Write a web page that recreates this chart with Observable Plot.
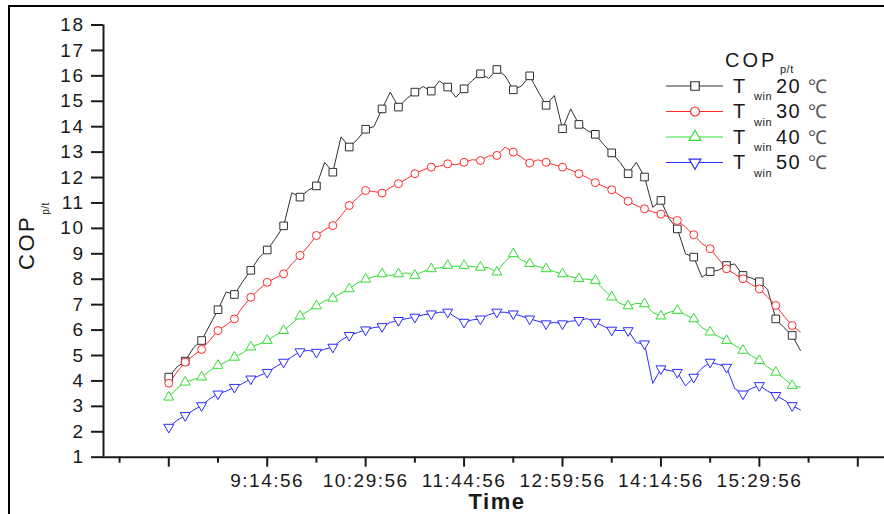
<!DOCTYPE html>
<html><head><meta charset="utf-8">
<script src="https://cdn.jsdelivr.net/npm/d3@7"></script>
<script src="https://cdn.jsdelivr.net/npm/@observablehq/plot@0.6"></script>
<style>
html,body{margin:0;padding:0;background:#fff;}
#wrap{position:relative;width:884px;height:514px;overflow:hidden;background:#fff;}
#frame{position:absolute;left:8px;top:5px;width:1000px;height:1000px;border-left:2.5px solid #000;border-top:2.5px solid #000;pointer-events:none;}
#wrap svg{position:absolute;left:0;top:0;}
</style></head>
<body><div id="wrap"><div id="frame"></div></div>
<script>
// ---- data ----
const startTime = "7:59:56";      // first sample
const stepSeconds = 375;           // sampling interval of the plotted points
const cop20 = [4.15,4.55,4.78,5.3,5.59,6.2,6.8,7.5,7.4,7.9,
  8.35,8.85,9.15,9.6,10.1,11.4,11.23,11.5,11.67,12.6,
  12.21,13.6,13.2,13.5,13.9,14.0,14.7,15.36,14.77,15.1,
  15.36,15.58,15.4,15.8,15.56,15.16,15.49,15.82,16.08,15.9,
  16.25,16.0,15.45,15.6,16.0,15.4,14.84,15.23,13.92,14.7,
  14.09,13.85,13.7,13.3,12.97,12.6,12.15,12.6,12.02,10.83,
  11.1,10.38,9.98,9.0,8.87,8.08,8.3,8.35,8.54,8.6,
  8.15,8.05,7.9,7.6,6.44,6.1,5.79,5.2];
const cop30 = [3.91,4.35,4.74,5.0,5.24,5.6,5.98,6.2,6.44,6.9,
  7.29,7.6,7.88,8.05,8.21,8.6,8.93,9.3,9.72,9.95,
  10.11,10.5,10.9,11.2,11.49,11.45,11.39,11.6,11.76,11.95,
  12.15,12.3,12.41,12.45,12.54,12.5,12.6,12.7,12.67,12.85,
  12.87,13.2,13.0,12.8,12.57,12.7,12.6,12.5,12.41,12.3,
  12.15,12.0,11.8,11.65,11.52,11.3,11.07,10.9,10.77,10.65,
  10.56,10.45,10.31,10.05,9.75,9.4,9.2,8.8,8.41,8.2,
  8.02,7.8,7.62,7.3,6.97,6.55,6.18,5.92];
const cop40 = [3.36,3.7,3.95,4.05,4.15,4.4,4.61,4.75,4.93,5.1,
  5.33,5.45,5.59,5.8,5.98,6.25,6.55,6.75,6.95,7.15,
  7.25,7.45,7.62,7.85,8.0,8.1,8.21,8.15,8.21,8.25,
  8.15,8.3,8.41,8.45,8.54,8.5,8.54,8.5,8.47,8.45,
  8.28,8.7,9.0,8.75,8.61,8.5,8.41,8.3,8.21,8.1,
  8.02,8.0,7.95,7.6,7.3,7.05,6.95,7.05,7.03,6.7,
  6.55,6.7,6.77,6.6,6.44,6.1,5.92,5.75,5.59,5.4,
  5.2,5.0,4.8,4.55,4.34,4.1,3.82,3.75];
const cop50 = [2.18,2.45,2.64,2.85,3.03,3.3,3.49,3.6,3.75,3.9,
  4.08,4.2,4.34,4.55,4.74,4.95,5.15,5.2,5.13,5.25,
  5.33,5.6,5.79,5.9,6.01,6.1,6.14,6.3,6.38,6.45,
  6.51,6.6,6.64,6.7,6.71,6.5,6.31,6.4,6.44,6.6,
  6.71,6.7,6.64,6.55,6.44,6.35,6.25,6.3,6.25,6.35,
  6.38,6.45,6.31,6.15,6.0,5.98,5.98,5.5,5.46,3.9,
  4.48,4.41,4.34,3.8,4.15,4.5,4.74,4.65,4.54,3.7,
  3.49,3.7,3.82,3.6,3.43,3.25,3.03,2.86];
const seriesTemps = ["20","30","40","50"];
const seriesColors = ["#303030","#ff2b2b","#33dd33","#2b2bff"];
const majorTicks = ["7:59:56","9:14:56","10:29:56","11:44:56","12:59:56","14:14:56","15:29:56","16:44:56"];
const labelledTicks = ["9:14:56","10:29:56","11:44:56","12:59:56","14:14:56","15:29:56"];
const minorTicks = ["7:22:26","8:37:26","9:52:26","11:07:26","12:22:26","13:37:26","14:52:26","16:07:26"];
const xDomain = ["7:10:11","17:05:17"];
const yTicks = [1,2,3,4,5,6,7,8,9,10,11,12,13,14,15,16,17,18];
const yLabel = "COP", ySub = "p/t", xLabel = "Time";

// ---- helpers ----
const parseT = s => { const [h,m,sec] = s.split(":").map(Number); return new Date(Date.UTC(2000,0,1,h,m,sec)); };
const fmtT = d => `${d.getUTCHours()}:${String(d.getUTCMinutes()).padStart(2,"0")}:${String(d.getUTCSeconds()).padStart(2,"0")}`;
const t0 = parseT(startTime).getTime();
const allSeries = [cop20, cop30, cop40, cop50];
const rows = [];
allSeries.forEach((vals, s) => vals.forEach((v, i) => rows.push({
  time: new Date(t0 + i * stepSeconds * 1000), value: v, series: seriesTemps[s], idx: i
})));
const triDown = {draw(ctx, size) {
  const y = Math.sqrt(size / (Math.sqrt(3) * 3)), x = Math.sqrt(3) * y;
  ctx.moveTo(0, 2 * y); ctx.lineTo(x, -y); ctx.lineTo(-x, -y); ctx.closePath();
}};
const symbols = [d3.symbolSquare, d3.symbolCircle, d3.symbolTriangle, triDown];
const radii = [4.3, 4, 3.7, 3.7];

const markerMarks = seriesTemps.map((name, s) => Plot.dot(
  rows.filter(d => d.series === name && d.idx % 2 === 0),
  {x: "time", y: "value", symbol: symbols[s], r: radii[s], stroke: seriesColors[s], fill: "white", strokeWidth: 1}
));

const chart = Plot.plot({
  width: 884, height: 514,
  marginLeft: 103, marginRight: 0, marginTop: 24.5, marginBottom: 57.3,
  x: {type: "utc", domain: xDomain.map(parseT), axis: null},
  y: {domain: [1, 18], axis: null},
  color: {domain: seriesTemps, range: seriesColors},
  style: {fontFamily: "'Liberation Sans', Arial, sans-serif", fontSize: "19px", color: "#1a1a1a",
          background: "transparent", letterSpacing: "1.5px", overflow: "visible"},
  marks: [
    Plot.line(rows, {x: "time", y: "value", z: "series", stroke: "series", strokeWidth: 1}),
    ...markerMarks,
    Plot.ruleY([1], {stroke: "#1a1a1a", strokeWidth: 2}),
    Plot.ruleX([parseT(xDomain[0])], {stroke: "#1a1a1a", strokeWidth: 2}),
    Plot.axisY({ticks: yTicks, tickSize: 12, tickPadding: 7, strokeWidth: 2, label: null, tickFormat: d => String(d)}),
    Plot.axisX({ticks: majorTicks.map(parseT), tickSize: 10, tickPadding: 6, strokeWidth: 2, label: null,
      tickFormat: d => labelledTicks.includes(fmtT(d)) ? fmtT(d) : ""}),
    Plot.axisX({ticks: minorTicks.map(parseT), tickSize: 6, strokeWidth: 2, label: null, tickFormat: () => ""})
  ]
});
document.getElementById("wrap").insertBefore(chart, document.getElementById("frame"));

const svg = d3.select(chart);
// y-axis title with subscript
const yt = svg.append("text").attr("transform", "translate(34,270) rotate(-90)").attr("text-anchor", "start")
  .attr("font-size", 22).attr("fill", "#1a1a1a").style("letter-spacing", "2.5px");
yt.append("tspan").text(yLabel);
yt.append("tspan").attr("font-size", 10).attr("dy", 15).style("letter-spacing", "0.5px").text(ySub);
// x-axis title
svg.append("text").attr("x", 497).attr("y", 509).attr("text-anchor", "middle")
  .attr("font-size", 22).attr("font-weight", "bold").attr("fill", "#1a1a1a").text(xLabel);

// legend
const lg = svg.append("g").attr("text-anchor", "start");
const lt = lg.append("text").attr("x", 725).attr("y", 66.5).attr("font-size", 20).attr("fill", "#1a1a1a")
  .style("letter-spacing", "3px");
lt.append("tspan").text(yLabel);
lt.append("tspan").attr("x", 780).attr("dy", 6.5).attr("font-size", 11).style("letter-spacing", "0.5px").text(ySub);
const legendSizes = [72, 64, 60, 60];
seriesTemps.forEach((name, s) => {
  const yc = 86 + 25.5 * s;
  lg.append("line").attr("x1", 666).attr("x2", 723).attr("y1", yc).attr("y2", yc)
    .attr("stroke", seriesColors[s]).attr("stroke-width", 1);
  lg.append("path").attr("transform", `translate(695,${yc})`)
    .attr("d", d3.symbol(symbols[s], legendSizes[s])())
    .attr("fill", "white").attr("stroke", seriesColors[s]).attr("stroke-width", 1.2);
  const tx = lg.append("text").attr("x", 733).attr("y", yc + 6.5).attr("font-size", 20).attr("fill", "#1a1a1a");
  tx.append("tspan").text("T");
  tx.append("tspan").attr("x", 754).attr("dy", 7.5).attr("font-size", 11).style("letter-spacing", "0.5px").text("win");
  tx.append("tspan").attr("x", 776).attr("dy", -7.5).attr("font-size", 20).text(name);
  tx.append("tspan").attr("x", 808).attr("font-size", 19).attr("fill", "#555").text("℃");
});
</script>
</body></html>
